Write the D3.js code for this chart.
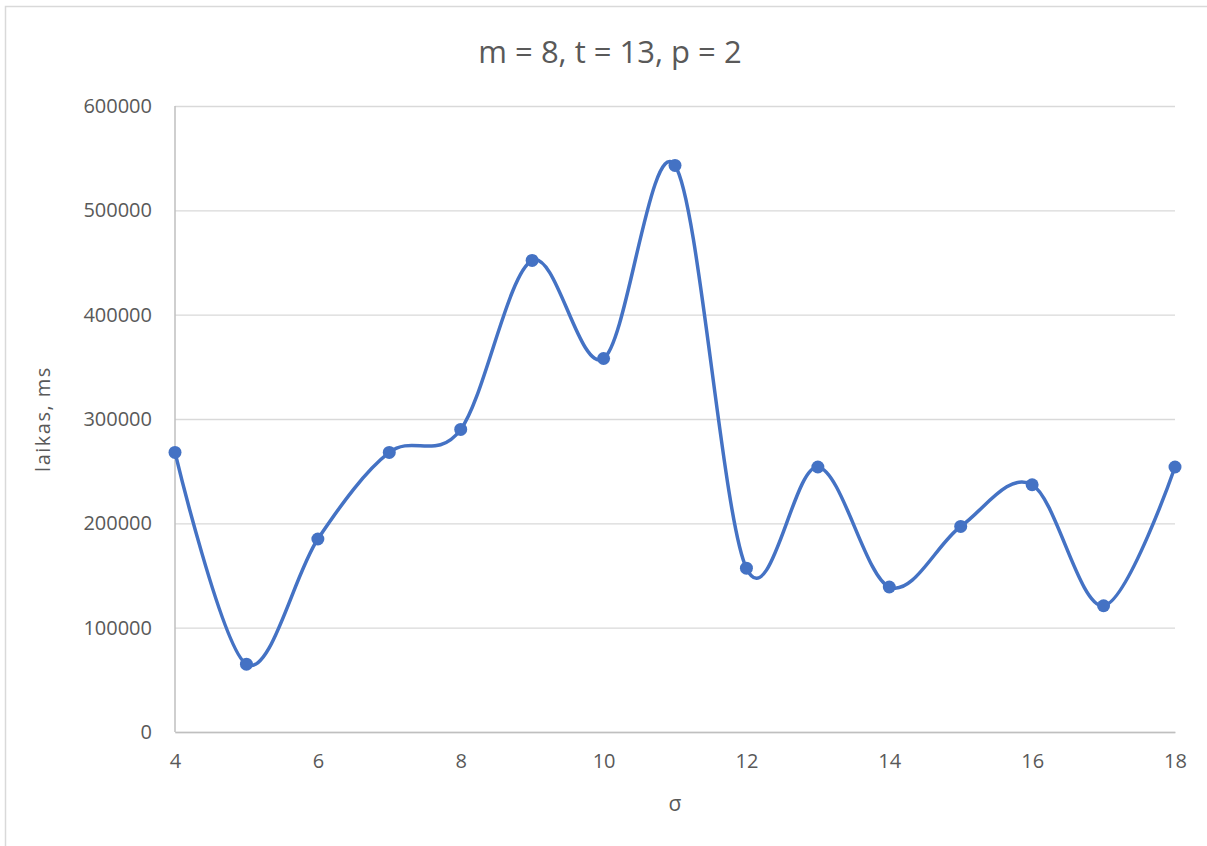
<!DOCTYPE html>
<html>
<head>
<meta charset="utf-8">
<script src="https://cdn.jsdelivr.net/npm/d3@7"></script>
<style>
  html, body { margin: 0; padding: 0; background: #fff; }
  svg { display: block; }
  text { font-family: "Open Sans", "Noto Sans", sans-serif; fill: #595959; }
</style>
</head>
<body>
<script>
// Run time (ms) for each sigma value
const sigma = [4, 5, 6, 7, 8, 9, 10, 11, 12, 13, 14, 15, 16, 17, 18];
const laikas = [268000, 65000, 185000, 268000, 290000, 452000, 358000, 543000, 157000, 254000, 139000, 197000, 237000, 121000, 254000];
const xTicks = [4, 6, 8, 10, 12, 14, 16, 18];
const yTicks = [0, 100000, 200000, 300000, 400000, 500000, 600000];
const chartTitle = "m = 8, t = 13, p = 2";
const xTitle = "σ";
const yTitle = "laikas, ms";

const W = 1207, H = 846;
const margin = { left: 175, right: 32, top: 106, bottom: 114 };

const svg = d3.select("body").append("svg").attr("width", W).attr("height", H);

// Chart frame
svg.append("rect")
  .attr("x", 5.5).attr("y", 6.5)
  .attr("width", W + 20).attr("height", H + 20)
  .attr("fill", "none").attr("stroke", "#d9d9d9").attr("stroke-width", 1.5);

const x = d3.scaleLinear().domain([4, 18]).range([margin.left, W - margin.right]);
const y = d3.scaleLinear().domain([0, 600000]).range([H - margin.bottom, margin.top]);

// Horizontal gridlines
svg.append("g")
  .attr("transform", `translate(${margin.left},0)`)
  .call(d3.axisLeft(y).tickValues(yTicks).tickSize(-(W - margin.left - margin.right)).tickFormat(""))
  .call(g => g.select(".domain").remove())
  .call(g => g.selectAll("line").attr("stroke", "#d9d9d9").attr("stroke-width", 1.3));

// Y tick labels
svg.append("g")
  .attr("transform", `translate(${margin.left},0)`)
  .call(d3.axisLeft(y).tickValues(yTicks).tickSize(0).tickPadding(23).tickFormat(d3.format("d")))
  .call(g => g.select(".domain").remove())
  .call(g => g.selectAll("text").style("font-size", "20px").attr("fill", "#595959"));

// Y axis line
svg.append("line")
  .attr("x1", margin.left).attr("x2", margin.left)
  .attr("y1", y(600000)).attr("y2", y(0))
  .attr("stroke", "#bfbfbf").attr("stroke-width", 1.5);

// X axis
svg.append("g")
  .attr("transform", `translate(0,${y(0)})`)
  .call(d3.axisBottom(x).tickValues(xTicks).tickSize(0).tickPadding(22).tickFormat(d3.format("d")))
  .call(g => g.select(".domain").attr("stroke", "#bfbfbf").attr("stroke-width", 1.5))
  .call(g => g.selectAll("text").style("font-size", "20px").attr("fill", "#595959"));

// Titles
svg.append("text")
  .attr("x", 610).attr("y", 63)
  .attr("text-anchor", "middle")
  .style("font-size", "31px")
  .text(chartTitle);

svg.append("text")
  .attr("x", (x(4) + x(18)) / 2).attr("y", 811)
  .attr("text-anchor", "middle")
  .style("font-size", "21px")
  .text(xTitle);

svg.append("text")
  .attr("transform", `translate(50,${(y(0) + y(600000)) / 2}) rotate(-90)`)
  .attr("text-anchor", "middle")
  .style("font-size", "20px")
  .style("letter-spacing", "1.5px")
  .text(yTitle);

// Smoothed series line
const pts = sigma.map((s, i) => [s, laikas[i]]);
const line = d3.line()
  .x(d => x(d[0]))
  .y(d => y(d[1]))
  .curve(d3.curveCardinal.tension(0));

svg.append("path")
  .datum(pts)
  .attr("d", line)
  .attr("fill", "none")
  .attr("stroke", "#4472c4")
  .attr("stroke-width", 3.5)
  .attr("stroke-linejoin", "round");

// Markers
svg.append("g")
  .selectAll("circle")
  .data(pts)
  .join("circle")
  .attr("cx", d => x(d[0]))
  .attr("cy", d => y(d[1]))
  .attr("r", 6.5)
  .attr("fill", "#4472c4");
</script>
</body>
</html>
